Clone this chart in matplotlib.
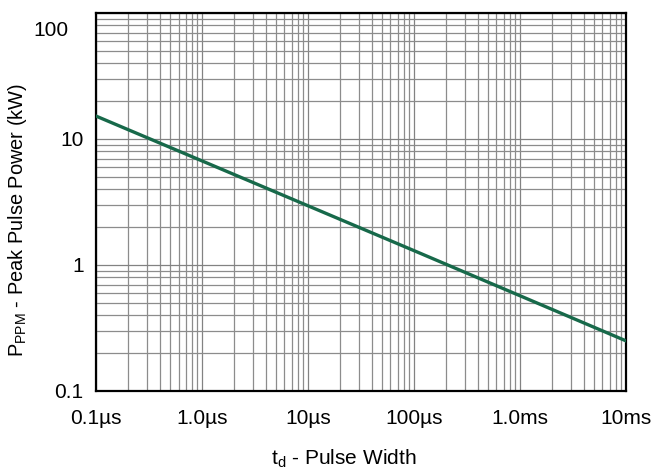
import numpy as np
import matplotlib.pyplot as plt
from matplotlib.transforms import ScaledTranslation

# Puls-Leistungskurve (log-log), Werte
pulsbreite_s = [1e-7, 1e-6, 1e-5, 1e-4, 1e-3, 1e-2]
leistung_kw = [15.2, 6.7, 2.95, 1.3, 0.57, 0.25]

x_ticks = [1e-7, 1e-6, 1e-5, 1e-4, 1e-3, 1e-2]
x_labels = ["0.1\u00b5s", "1.0\u00b5s", "10\u00b5s", "100\u00b5s", "1.0ms", "10ms"]
y_ticks = [0.1, 1, 10, 100]
y_labels = ["0.1", "1", "10", "100"]

plt.rcParams["font.family"] = ["Liberation Sans", "DejaVu Sans"]
plt.rcParams["mathtext.fontset"] = "custom"
plt.rcParams["mathtext.rm"] = "Liberation Sans"

fig = plt.figure(figsize=(6.72, 4.71), dpi=100)
ax = fig.add_axes([0.1429, 0.1699, 0.7886, 0.8025])

ax.plot(pulsbreite_s, leistung_kw, color="#17694a", linewidth=2.4, zorder=3)

ax.set_xscale("log")
ax.set_yscale("log")
ax.set_xlim(1e-7, 1e-2)
ax.set_ylim(0.1, 100)

ax.set_xticks(x_ticks)
ax.set_xticklabels(x_labels)
ax.set_yticks(y_ticks)
ax.set_yticklabels(y_labels)
ax.tick_params(which="both", length=0)
ax.tick_params(axis="x", labelsize=15, pad=13)
ax.tick_params(axis="y", labelsize=15, pad=9)

# "100" sitzt im Original etwas tiefer und weiter links
lab100 = ax.get_yticklabels()[-1]
lab100.set_transform(lab100.get_transform()
                     + ScaledTranslation(-0.15, -0.16, fig.dpi_scale_trans))

ax.grid(True, which="major", color="#828282", linewidth=0.9)
ax.grid(True, which="minor", color="#8c8c8c", linewidth=0.9)

for sp in ax.spines.values():
    sp.set_linewidth(1.6)
    sp.set_color("black")

ax.set_xlabel(r"t$_{\mathregular{d}}$ - Pulse Width", fontsize=15)
ax.xaxis.set_label_coords(0.468, -0.148)
ax.set_ylabel(r"P$_{\mathregular{PPM}}$ - Peak Pulse Power (kW)", fontsize=14.4)
ax.yaxis.set_label_coords(-0.126, 0.452)

fig.savefig("out.png", dpi=100)
